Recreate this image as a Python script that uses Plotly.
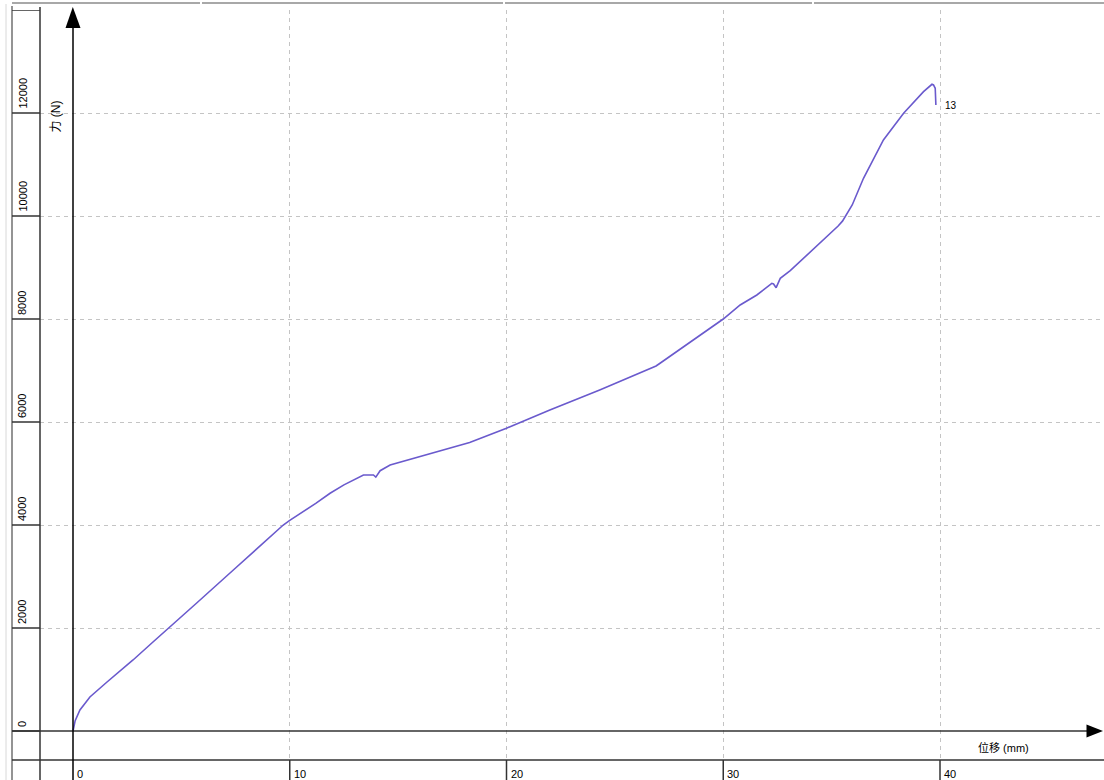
import plotly.graph_objects as go

# ---------------- data ----------------
displacement_mm = [0.0, 0.1, 0.32, 0.78, 1.57, 2.77, 3.69, 4.48, 5.72, 7.5, 9.7, 10.0,
                   10.6, 11.2, 11.86, 12.5, 13.40, 13.86, 13.97, 14.17, 14.63, 15.70, 16.47,
                   17.40, 18.3, 20.0, 22.0, 24.3, 26.9, 27.1, 28.9, 30.0, 30.78, 31.55,
                   32.24, 32.32, 32.44, 32.63, 33.09, 33.63, 35.3, 35.5, 35.95, 36.47,
                   37.39, 38.32, 39.24, 39.63, 39.70, 39.78, 39.81]
force_N = [0, 200, 408, 660, 951, 1379, 1728, 2019, 2490, 3165, 4000, 4090,
           4250, 4420, 4616, 4780, 4971, 4971, 4930, 5054, 5165, 5295, 5385,
           5490, 5600, 5880, 6233, 6621, 7087, 7146, 7670, 8000, 8272, 8466,
           8693, 8680, 8608, 8790, 8938, 9146, 9806, 9900, 10214, 10732,
           11476, 11994, 12414, 12557, 12544, 12480, 12155]

x_tick_values = [0, 10, 20, 30, 40]
x_tick_labels = ["0", "10", "20", "30", "40"]
y_tick_values = [0, 2000, 4000, 6000, 8000, 10000, 12000]
y_tick_labels = ["0", "2000", "4000", "6000", "8000", "10000", "12000"]
y_grid_values = [2000, 4000, 6000, 8000, 10000, 12000, 14000]
x_title = "位移 (mm)"
y_title = "力 (N)"
end_label = "13"

# ---------------- geometry ----------------
W, H = 1104, 780
L, R, T, B = 40, 0, 10, 20
X0PX, XSCALE = 73, 21.675     # pixel of x=0, pixels per mm
Y0PX, YSCALE = 731, 0.0515    # pixel of y=0, pixels per N


def pxp(x):
    return (x - L) / (W - L - R)


def pyp(y):
    return (H - B - y) / (H - T - B)


x_range = [(L - X0PX) / XSCALE, (W - R - X0PX) / XSCALE]
y_range = [(Y0PX - (H - B)) / YSCALE, (Y0PX - T) / YSCALE]

FONT = "Liberation Sans, Arial, Noto Sans CJK SC, sans-serif"
DARK = "#333333"
GRID = "#c4c4c4"

fig = go.Figure()
fig.add_trace(go.Scatter(
    x=displacement_mm, y=force_N, mode="lines",
    line=dict(color="#6a5acd", width=1.6),
    hoverinfo="skip", showlegend=False,
))

shapes = []
# window chrome at the top
for a, b in [(12, 200), (202, 503), (505, 812), (814, 1104)]:
    shapes.append(dict(type="line", xref="paper", yref="paper",
                       x0=pxp(a), x1=pxp(b), y0=pyp(3), y1=pyp(3),
                       line=dict(color="#a8a8a8", width=2)))
# left window border
shapes.append(dict(type="line", xref="paper", yref="paper",
                   x0=pxp(6), x1=pxp(6), y0=pyp(780), y1=pyp(4),
                   line=dict(color="#d8d8d8", width=1)))
shapes.append(dict(type="line", xref="paper", yref="paper",
                   x0=pxp(12), x1=pxp(12), y0=pyp(780), y1=pyp(6),
                   line=dict(color="#707070", width=1.5)))
# label column right border
shapes.append(dict(type="line", xref="paper", yref="paper",
                   x0=pxp(40), x1=pxp(40), y0=pyp(780), y1=pyp(7),
                   line=dict(color=DARK, width=1.5)))
# bottom band line
shapes.append(dict(type="line", xref="paper", yref="paper",
                   x0=pxp(12), x1=pxp(1104), y0=pyp(760), y1=pyp(760),
                   line=dict(color=DARK, width=1.5)))
# y tick lines in label column
for v in [0] + y_grid_values:
    shapes.append(dict(type="line", xref="paper", yref="y",
                       x0=pxp(12), x1=pxp(40), y0=v, y1=v,
                       line=dict(color=DARK, width=1.5)))
# x tick marks in bottom band
for v in x_tick_values[1:]:
    shapes.append(dict(type="line", xref="x", yref="paper",
                       x0=v, x1=v, y0=pyp(780), y1=pyp(760),
                       line=dict(color=DARK, width=1.5)))
# x axis (y = 0)
shapes.append(dict(type="line", xref="paper", yref="y",
                   x0=pxp(12), x1=pxp(1092), y0=0, y1=0,
                   line=dict(color=DARK, width=1.5)))
# y axis (x = 0)
shapes.append(dict(type="line", xref="x", yref="paper",
                   x0=0, x1=0, y0=pyp(780), y1=pyp(24),
                   line=dict(color="#000000", width=1.5)))


# arrow heads
def tri(p):
    return "M " + " L ".join(f"{pxp(a):.5f},{pyp(b):.5f}" for a, b in p) + " Z"


shapes.append(dict(type="path", xref="paper", yref="paper",
                   path=tri([(72.8, 7), (65.5, 28), (80.5, 28)]),
                   fillcolor="#000000", line=dict(width=0)))
shapes.append(dict(type="path", xref="paper", yref="paper",
                   path=tri([(1103, 731), (1086.5, 724.5), (1086.5, 737.5)]),
                   fillcolor="#000000", line=dict(width=0)))

annotations = []
for v, t in zip(y_tick_values, y_tick_labels):
    annotations.append(dict(xref="paper", yref="y", x=pxp(22), y=v, text=t,
                            textangle=-90, xanchor="center", yanchor="bottom",
                            yshift=2, showarrow=False,
                            font=dict(family=FONT, size=11, color="#000")))
for v, t in zip(x_tick_values, x_tick_labels):
    annotations.append(dict(xref="x", yref="paper", x=v, y=pyp(766), text=t,
                            xanchor="left", yanchor="top", xshift=2,
                            showarrow=False,
                            font=dict(family=FONT, size=11, color="#000")))
annotations.append(dict(xref="paper", yref="paper", x=pxp(1003), y=pyp(747),
                        text=x_title, xanchor="center", yanchor="middle",
                        showarrow=False,
                        font=dict(family=FONT, size=11, color="#000")))
annotations.append(dict(xref="paper", yref="paper", x=pxp(55.5), y=pyp(117),
                        text=y_title, textangle=-90, xanchor="center",
                        yanchor="middle", showarrow=False,
                        font=dict(family=FONT, size=12, color="#000")))
annotations.append(dict(xref="x", yref="y", x=displacement_mm[-1], y=force_N[-1],
                        text=end_label, xanchor="left", yanchor="middle",
                        xshift=7, showarrow=False,
                        font=dict(family=FONT, size=10, color="#000")))

axis_common = dict(showticklabels=False, ticks="", showline=False, zeroline=False,
                   showgrid=True, gridcolor=GRID, gridwidth=1, griddash="4px,4px",
                   fixedrange=True)

fig.update_layout(
    width=W, height=H, autosize=False,
    margin=dict(l=L, r=R, t=T, b=B, pad=0),
    paper_bgcolor="white", plot_bgcolor="white",
    xaxis=dict(range=x_range, tickmode="array", tickvals=x_tick_values[1:], **axis_common),
    yaxis=dict(range=y_range, tickmode="array", tickvals=y_grid_values, **axis_common),
    shapes=shapes, annotations=annotations,
    showlegend=False,
)

fig.write_html("out.html", config={"displayModeBar": False},
               post_script="document.body.style.margin='0';document.body.style.padding='0';")
